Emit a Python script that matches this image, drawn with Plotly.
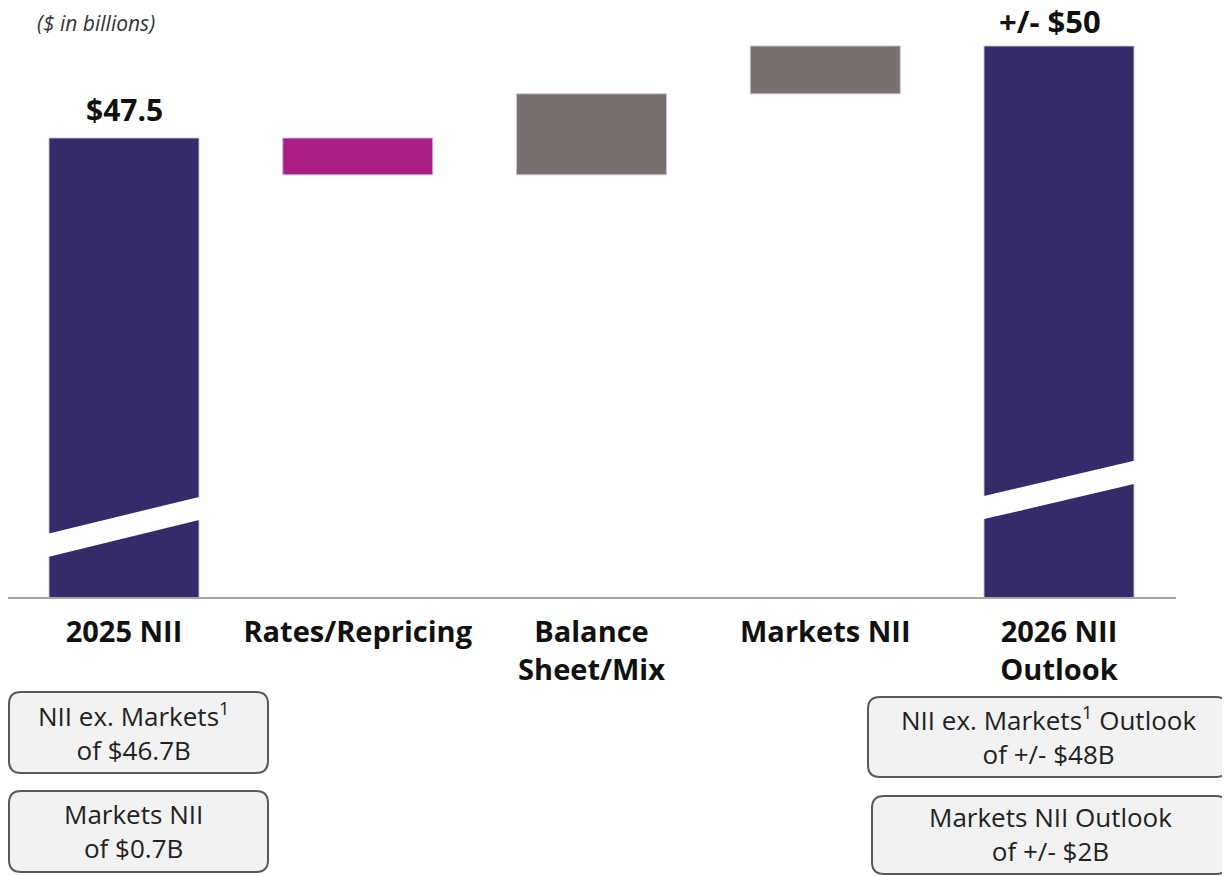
import plotly.graph_objects as go

# ---- data ----
categories = ["2025 NII", "Rates/Repricing", "Balance<br>Sheet/Mix", "Markets NII", "2026 NII<br>Outlook"]
start_value = 47.5
deltas = [-1.0, 2.2, 1.3]
end_value = 50.0
value_labels = ["$47.5", "+/- $50"]
box_texts_left = ["NII ex. Markets<sup>1</sup><br>of $46.7B", "Markets NII<br>of $0.7B"]
box_texts_right = ["NII ex. Markets<sup>1</sup> Outlook<br>of +/- $48B", "Markets NII Outlook<br>of +/- $2B"]

NAVY = "#362B69"
MAGENTA = "#AA1E86"
GRAY = "#7A7070"
FONT = "Open Sans"

# waterfall bases
bases, heights, colors = [], [], []
bases.append(0); heights.append(start_value); colors.append(NAVY)
running = start_value
for d in deltas:
    if d >= 0:
        bases.append(running); heights.append(d); colors.append(GRAY)
    else:
        bases.append(running + d); heights.append(-d); colors.append(MAGENTA)
    running += d
bases.append(0); heights.append(end_value); colors.append(NAVY)

# page geometry (figure div sits 8px in from the page corner)
OFF = 8
W, H = 1230 - OFF, 876 - OFF
PLOT_L, PLOT_R, PLOT_T, PLOT_B = 8, 1176, 8, 598   # page pixels
ML, MR, MT, MB = PLOT_L - OFF, 1230 - PLOT_R, PLOT_T - OFF, 876 - PLOT_B
PW = PLOT_R - PLOT_L
PH = PLOT_B - PLOT_T

PX_PER_UNIT = 36.8
Y_MIN = 35.0
Y_MAX = Y_MIN + PH / PX_PER_UNIT

CAT_W = 233.75
X0 = -(124 - PLOT_L) / CAT_W
X1 = X0 + PW / CAT_W

def px(x):
    return (x - PLOT_L) / PW

def py(y):
    return (PLOT_B - y) / PH

fig = go.Figure()
fig.add_trace(go.Bar(
    x=list(range(len(categories))), y=heights, base=bases,
    marker=dict(color=colors, line=dict(color="rgba(200,196,212,0.9)", width=1)),
    width=150 / CAT_W, hoverinfo="skip", showlegend=False,
))

shapes = []
# broken-axis slashes on the total bars
def band(xc, yl_top, yr_top, thick):
    x0, x1 = xc - 0.33, xc + 0.33
    return dict(type="path", xref="x", yref="y", layer="above",
                path=f"M {x0},{yl_top} L {x1},{yr_top} L {x1},{yr_top - thick} L {x0},{yl_top - thick} Z",
                fillcolor="white", line=dict(width=0))
shapes.append(band(0, 36.74, 37.76, 0.63))
shapes.append(band(4, 37.76, 38.74, 0.63))

# axis baseline
shapes.append(dict(type="line", xref="paper", yref="paper", x0=0, x1=1, y0=0, y1=0,
                   line=dict(color="#A6A6A6", width=2), layer="above"))

def rrect(x0, y0, x1, y1, r=12):
    X0, X1 = px(x0), px(x1)
    Y0, Y1 = py(y0), py(y1)
    rx, ry = r / PW, r / PH
    p = (f"M {X0+rx},{Y0} L {X1-rx},{Y0} Q {X1},{Y0} {X1},{Y0-ry} "
         f"L {X1},{Y1+ry} Q {X1},{Y1} {X1-rx},{Y1} "
         f"L {X0+rx},{Y1} Q {X0},{Y1} {X0},{Y1+ry} "
         f"L {X0},{Y0-ry} Q {X0},{Y0} {X0+rx},{Y0} Z")
    return dict(type="path", xref="paper", yref="paper", path=p,
                fillcolor="#F2F2F2", line=dict(color="#595959", width=2))

boxes = [(9, 692, 268, 773), (9, 791, 268, 872), (868, 697, 1228, 777), (872, 796, 1228, 874)]
for b in boxes:
    shapes.append(rrect(*b))

annotations = []
for (b, t) in zip(boxes, box_texts_left + box_texts_right):
    cx = (b[0] + b[2]) / 2 if b[0] > 100 else 133
    annotations.append(dict(
        xref="paper", yref="paper", x=px(cx), y=py((b[1] + b[3]) / 2 - 1),
        text=t, showarrow=False, xanchor="center", yanchor="middle",
        font=dict(family=FONT, size=26, color="#222222"), align="center"))

# value labels
annotations.append(dict(x=0, y=start_value, xref="x", yref="y", text=f"<b>{value_labels[0]}</b>",
                        showarrow=False, yanchor="bottom", yshift=6,
                        font=dict(family=FONT, size=30, color="#111111")))
annotations.append(dict(x=4, y=end_value, xref="x", yref="y", text=f"<b>{value_labels[1]}</b>",
                        showarrow=False, yanchor="bottom", yshift=2, xshift=-9,
                        font=dict(family=FONT, size=31, color="#111111")))

# title
annotations.append(dict(xref="paper", yref="paper", x=px(35), y=1, yshift=1, xanchor="left", yanchor="top",
                        text="<i>($ in billions)</i>", showarrow=False,
                        font=dict(family=FONT, size=21, color="#333333")))

fig.update_layout(
    width=W, height=H, margin=dict(l=ML, r=MR, t=MT, b=MB, pad=0),
    plot_bgcolor="white", paper_bgcolor="white",
    shapes=shapes, annotations=annotations,
    xaxis=dict(tickmode="array", tickvals=list(range(len(categories))),
               ticktext=[f"<b>{c}</b>" for c in categories],
               range=[X0, X1], showgrid=False, zeroline=False,
               showline=False, ticks="", ticklabelstandoff=14,
               tickfont=dict(family=FONT, size=29, color="#111111")),
    yaxis=dict(range=[Y_MIN, Y_MAX], visible=False, showgrid=False, zeroline=False),
)

fig.write_html("out.html")
